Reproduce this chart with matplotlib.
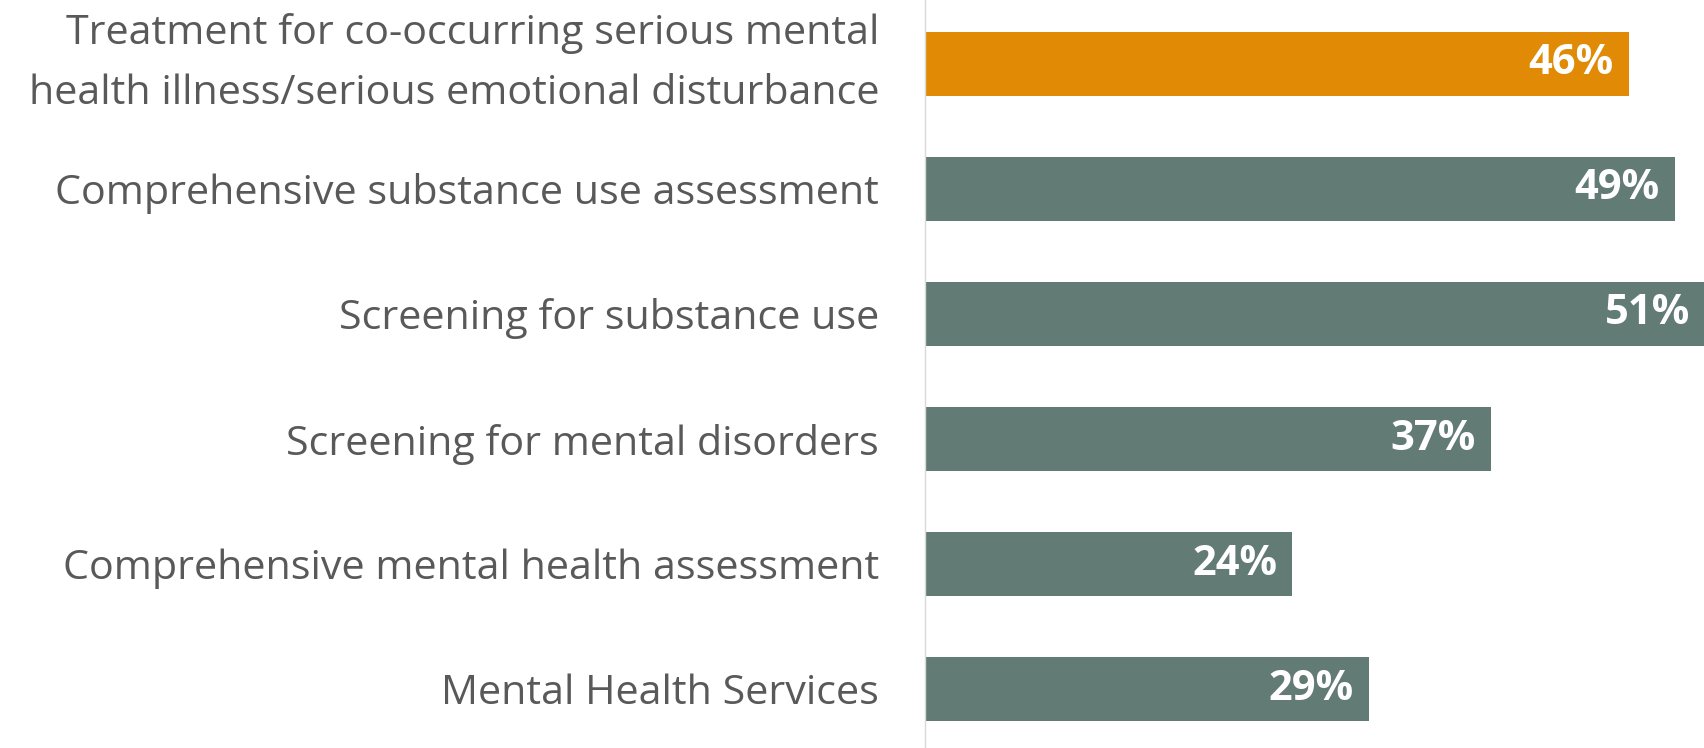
import matplotlib
matplotlib.use("Agg")
import matplotlib.pyplot as plt

categories = [
    "Treatment for co-occurring serious mental\nhealth illness/serious emotional disturbance",
    "Comprehensive substance use assessment",
    "Screening for substance use",
    "Screening for mental disorders",
    "Comprehensive mental health assessment",
    "Mental Health Services",
]
values = [46, 49, 51, 37, 24, 29]
highlight = [True, False, False, False, False, False]

ORANGE = "#E08A06"
TEAL = "#627B75"
GREY = "#595959"

plt.rcParams['font.family'] = ['Open Sans', 'DejaVu Sans']

fig = plt.figure(figsize=(17.04, 7.48), dpi=100)
ax = fig.add_axes([925 / 1704, 0, 1 - 925 / 1704, 1])

pos = list(range(len(values)))[::-1]
colors = [ORANGE if h else TEAL for h in highlight]
ax.barh(pos, values, height=0.51, color=colors)

for p, v in zip(pos, values):
    ax.text(v - 1.0, p, f"{v}%", ha="right", va="center", color="white",
            fontsize=30, fontweight="bold")

ax.set_yticks(pos)
ax.set_yticklabels(categories, fontsize=29.7, color=GREY, linespacing=1.65)
# the two-line label sits centred on its bar
for lbl in ax.get_yticklabels():
    if "\n" in lbl.get_text():
        lbl.set_verticalalignment("center")
ax.tick_params(axis="y", length=0, pad=33)
ax.set_xticks([])
ax.set_xlim(0, 50.9)
ax.set_ylim(-0.47, 5.51)

for s in ["top", "right", "bottom"]:
    ax.spines[s].set_visible(False)
ax.spines["left"].set_color("#D9D9D9")
ax.spines["left"].set_linewidth(1)

fig.savefig("out.png", dpi=100)
